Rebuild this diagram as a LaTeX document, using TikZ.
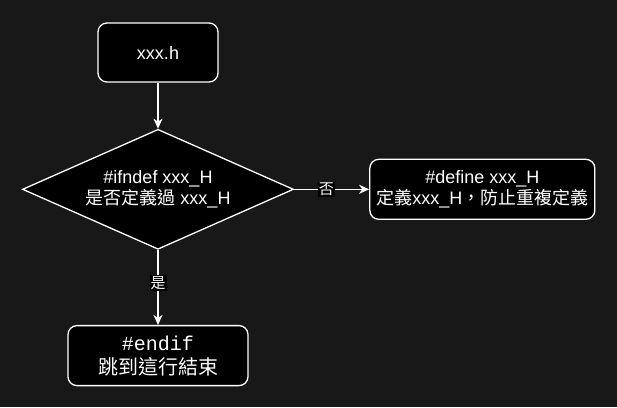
\documentclass[tikz,border=0pt]{standalone}
\usepackage{fontspec}
\setmainfont{Liberation Sans}
\setmonofont{Liberation Mono}
\newfontfamily\cjk{Noto Sans CJK TC}
\usepackage{tikz}
\usetikzlibrary{arrows.meta,positioning,shapes.geometric}

\definecolor{bgdark}{RGB}{24,24,24}

\begin{document}
\begin{tikzpicture}[
    x=1pt, y=-1pt,
    >={Stealth[length=10pt,width=9pt,inset=3pt]},
    every node/.style={text=white, font=\fontsize{18}{21.6}\selectfont},
    box/.style={rounded corners=9pt, draw=white, line width=1.3pt, fill=black, align=center, minimum width=120pt, minimum height=59pt, inner sep=2pt},
    decision/.style={diamond, aspect=2.26, draw=white, line width=1.3pt, fill=black, align=center, minimum width=271pt, minimum height=120pt, inner sep=0pt},
    lbl/.style={fill=black, inner sep=1pt, font=\fontsize{15}{17}\selectfont\cjk},
    link/.style={->, draw=white, line width=1.3pt}
]

\fill[bgdark] (0,0) rectangle (617,407);

\node[box] (hdr) at (158,52.5) {xxx.h};
\node[decision, below=46pt of hdr] (chk) {\#ifndef xxx\_H\\{\cjk 是否定義過} xxx\_H};
\node[box, right=75pt of chk, minimum width=225pt, minimum height=60pt] (def) {\#define xxx\_H\\{\cjk 定義}xxx\_H{\cjk ，防止重複定義}};
\node[box, below=75pt of chk, minimum width=180pt, minimum height=60pt, font=\fontsize{20}{24}\selectfont] (endf) {\texttt{\#endif}\\{\cjk 跳到這行結束}};

\draw[link] (hdr) -- (chk);
\draw[link] (chk.east) -- node[lbl, pos=0.43] {否} (def.west);
\draw[link] (chk.south) -- node[lbl, pos=0.44] {是} (endf.north);

\end{tikzpicture}
\end{document}
